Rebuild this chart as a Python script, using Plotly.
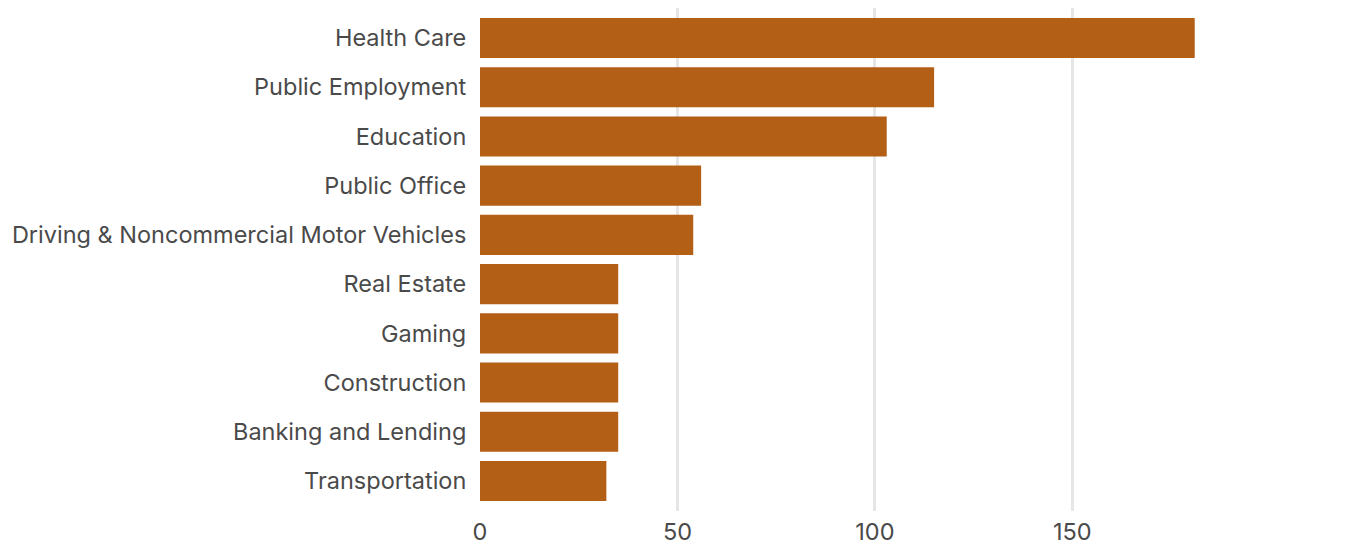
import plotly.graph_objects as go

# Categories listed top to bottom
categories = [
    "Health Care",
    "Public Employment",
    "Education",
    "Public Office",
    "Driving & Noncommercial Motor Vehicles",
    "Real Estate",
    "Gaming",
    "Construction",
    "Banking and Lending",
    "Transportation",
]
values = [181, 115, 103, 56, 54, 35, 35, 35, 35, 32]
x_ticks = [0, 50, 100, 150]

BAR_COLOR = "#b35f16"
TEXT_COLOR = "#4a4a4a"
GRID_COLOR = "#e6e6e6"
FONT = "Inter, Lato, sans-serif"
FONT_SIZE = 23.5

fig = go.Figure(
    go.Bar(
        x=values,
        y=categories,
        orientation="h",
        marker=dict(color=BAR_COLOR, line=dict(width=0)),
        hoverinfo="x+y",
    )
)

n = len(categories)
fig.update_layout(
    width=1351,
    height=544,
    margin=dict(l=480, r=101, t=8, b=33),
    paper_bgcolor="white",
    plot_bgcolor="white",
    bargap=0.185,
    showlegend=False,
    font=dict(family=FONT, size=FONT_SIZE, color=TEXT_COLOR),
)
fig.update_xaxes(
    range=[0, 195],
    tickvals=x_ticks,
    automargin=False,
    showgrid=True,
    gridcolor=GRID_COLOR,
    gridwidth=2.5,
    zeroline=False,
    showline=False,
    ticks="",
    ticklabelstandoff=4,
    tickfont=dict(size=FONT_SIZE, color=TEXT_COLOR),
)
fig.update_yaxes(
    categoryorder="array",
    categoryarray=categories,
    range=[n - 1 + 0.61, -0.61],
    automargin=False,
    showgrid=False,
    zeroline=False,
    showline=False,
    ticks="outside",
    ticklen=8,
    tickcolor="rgba(0,0,0,0)",
    tickfont=dict(size=FONT_SIZE, color=TEXT_COLOR),
)

fig.write_html("out.html")
